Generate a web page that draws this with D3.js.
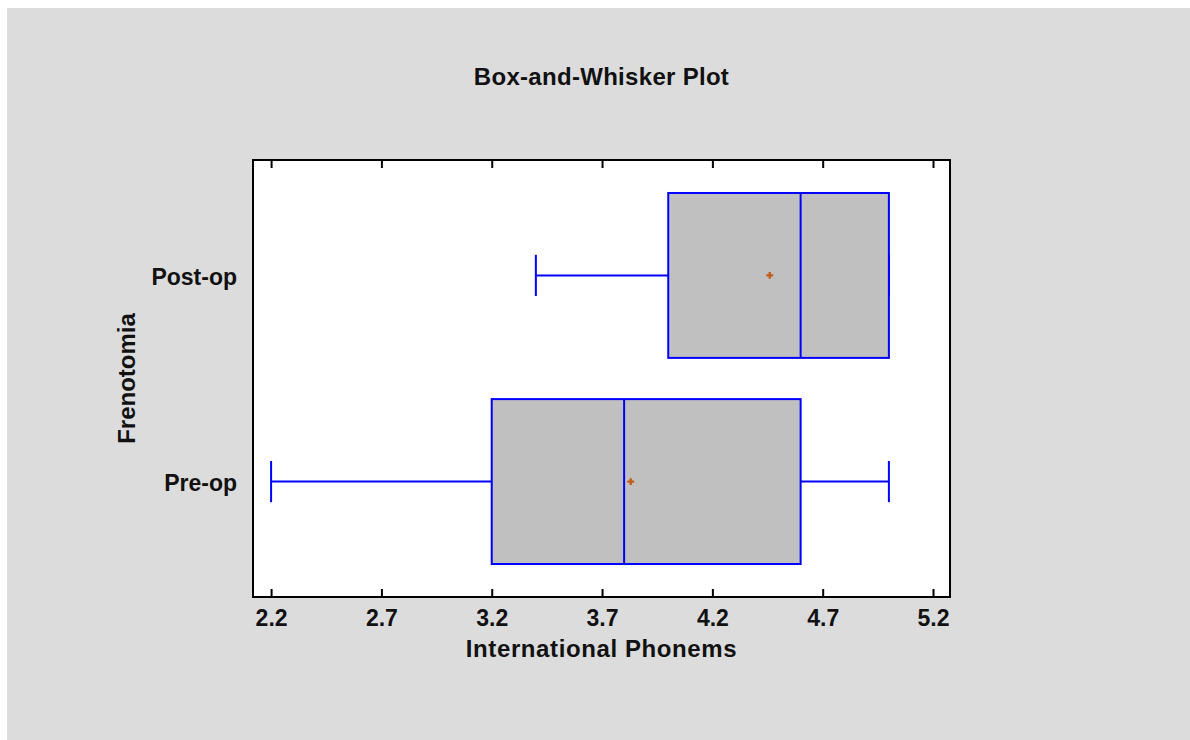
<!DOCTYPE html>
<html>
<head>
<meta charset="utf-8">
<script src="https://cdn.jsdelivr.net/npm/d3@7"></script>
<style>
  body { margin: 0; background: #fff; }
  text { font-family: "Liberation Sans", Arial, sans-serif; font-weight: bold; fill: #111; }
</style>
</head>
<body>
<div class="container"></div>
<script>
const width = 1190,
    height = 740;

// values
const groups = ['Post-op', 'Pre-op'];
const minVals = [3.4, 2.2];
const q1Vals = [4.0, 3.2];
const medianVals = [4.6, 3.8];
const q3Vals = [5.0, 4.6];
const maxVals = [5.0, 5.0];
const meanVals = [4.46, 3.83];
const xTicks = [2.2, 2.7, 3.2, 3.7, 4.2, 4.7, 5.2];
const xMinor = d3.range(22, 53).map(d => d / 10);

const plot = { left: 253, right: 950, top: 160, bottom: 597 };

const rows = groups.map((g, i) => ({
    name: g,
    min: minVals[i],
    q1: q1Vals[i],
    median: medianVals[i],
    q3: q3Vals[i],
    max: maxVals[i],
    mean: meanVals[i]
}));

const svg = d3.select('.container')
    .append('svg')
    .attr('width', width)
    .attr('height', height);

svg.append('rect')
    .attr('x', 7)
    .attr('y', 8)
    .attr('width', width - 7)
    .attr('height', height - 8)
    .attr('fill', '#dcdcdc');

const x = d3.scaleLinear()
    .domain([2.118, 5.277])
    .range([plot.left, plot.right]);

const y = d3.scalePoint()
    .domain(groups)
    .range([plot.top, plot.bottom])
    .padding(0.56);

const boxH = y.step() * 0.8,
    capH = y.step() * 0.2;

svg.append('rect')
    .attr('x', plot.left)
    .attr('y', plot.top)
    .attr('width', plot.right - plot.left)
    .attr('height', plot.bottom - plot.top)
    .attr('fill', '#fff');

// boxes
const box = svg.append('g').selectAll('g')
    .data(rows)
    .enter()
    .append('g');

box.append('line')
    .attr('x1', d => x(d.min))
    .attr('x2', d => x(d.q1))
    .attr('y1', d => y(d.name))
    .attr('y2', d => y(d.name));

box.append('line')
    .attr('x1', d => x(d.q3))
    .attr('x2', d => x(d.max))
    .attr('y1', d => y(d.name))
    .attr('y2', d => y(d.name));

box.append('line')
    .attr('x1', d => x(d.min))
    .attr('x2', d => x(d.min))
    .attr('y1', d => y(d.name) - capH / 2)
    .attr('y2', d => y(d.name) + capH / 2);

box.append('line')
    .attr('x1', d => x(d.max))
    .attr('x2', d => x(d.max))
    .attr('y1', d => y(d.name) - capH / 2)
    .attr('y2', d => y(d.name) + capH / 2);

box.append('rect')
    .attr('x', d => x(d.q1))
    .attr('y', d => y(d.name) - boxH / 2)
    .attr('width', d => x(d.q3) - x(d.q1))
    .attr('height', boxH)
    .attr('fill', '#c0c0c0');

box.append('line')
    .attr('x1', d => x(d.median))
    .attr('x2', d => x(d.median))
    .attr('y1', d => y(d.name) - boxH / 2)
    .attr('y2', d => y(d.name) + boxH / 2);

box.selectAll('line, rect')
    .attr('stroke', '#0000ff')
    .attr('stroke-width', 2);

box.append('path')
    .attr('d', d3.symbol(d3.symbolCross, 26))
    .attr('transform', d => `translate(${x(d.mean)},${y(d.name)})`)
    .attr('fill', '#c45a18');

// axes
const xAxisBottom = svg.append('g')
    .attr('transform', `translate(0,${plot.bottom})`);
xAxisBottom.call(d3.axisBottom(x).tickValues(xMinor).tickSize(-4).tickFormat(''));
xAxisBottom.call(d3.axisBottom(x).tickValues(xTicks).tickSize(-8).tickPadding(13).tickFormat(d3.format('.1f')));

const xAxisTop = svg.append('g')
    .attr('transform', `translate(0,${plot.top})`);
xAxisTop.call(d3.axisTop(x).tickValues(xMinor).tickSize(-4).tickFormat(''));
xAxisTop.call(d3.axisTop(x).tickValues(xTicks).tickSize(-8).tickFormat(''));

svg.selectAll('.domain').remove();
svg.selectAll('.tick line').attr('stroke', '#000').attr('stroke-width', 2);
xAxisBottom.selectAll('text').style('font-size', '23px').attr('fill', '#111');

const yAxis = svg.append('g')
    .attr('transform', `translate(${plot.left},0)`)
    .call(d3.axisLeft(y).tickSize(0).tickPadding(16));
yAxis.select('.domain').remove();
yAxis.selectAll('text').style('font-size', '23px').attr('dy', '0.38em').attr('fill', '#111');

svg.append('rect')
    .attr('x', plot.left)
    .attr('y', plot.top)
    .attr('width', plot.right - plot.left)
    .attr('height', plot.bottom - plot.top)
    .attr('fill', 'none')
    .attr('stroke', '#000')
    .attr('stroke-width', 2);

// titles
svg.append('text')
    .attr('x', (plot.left + plot.right) / 2)
    .attr('y', 85)
    .attr('text-anchor', 'middle')
    .style('font-size', '24px')
    .style('letter-spacing', '0.3px')
    .text('Box-and-Whisker Plot');

svg.append('text')
    .attr('x', (plot.left + plot.right) / 2)
    .attr('y', 657)
    .attr('text-anchor', 'middle')
    .style('font-size', '24px')
    .style('letter-spacing', '0.6px')
    .text('International Phonems');

svg.append('text')
    .attr('transform', `translate(135,${(plot.top + plot.bottom) / 2}) rotate(-90)`)
    .attr('text-anchor', 'middle')
    .style('font-size', '24px')
    .text('Frenotomia');
</script>
</body>
</html>
